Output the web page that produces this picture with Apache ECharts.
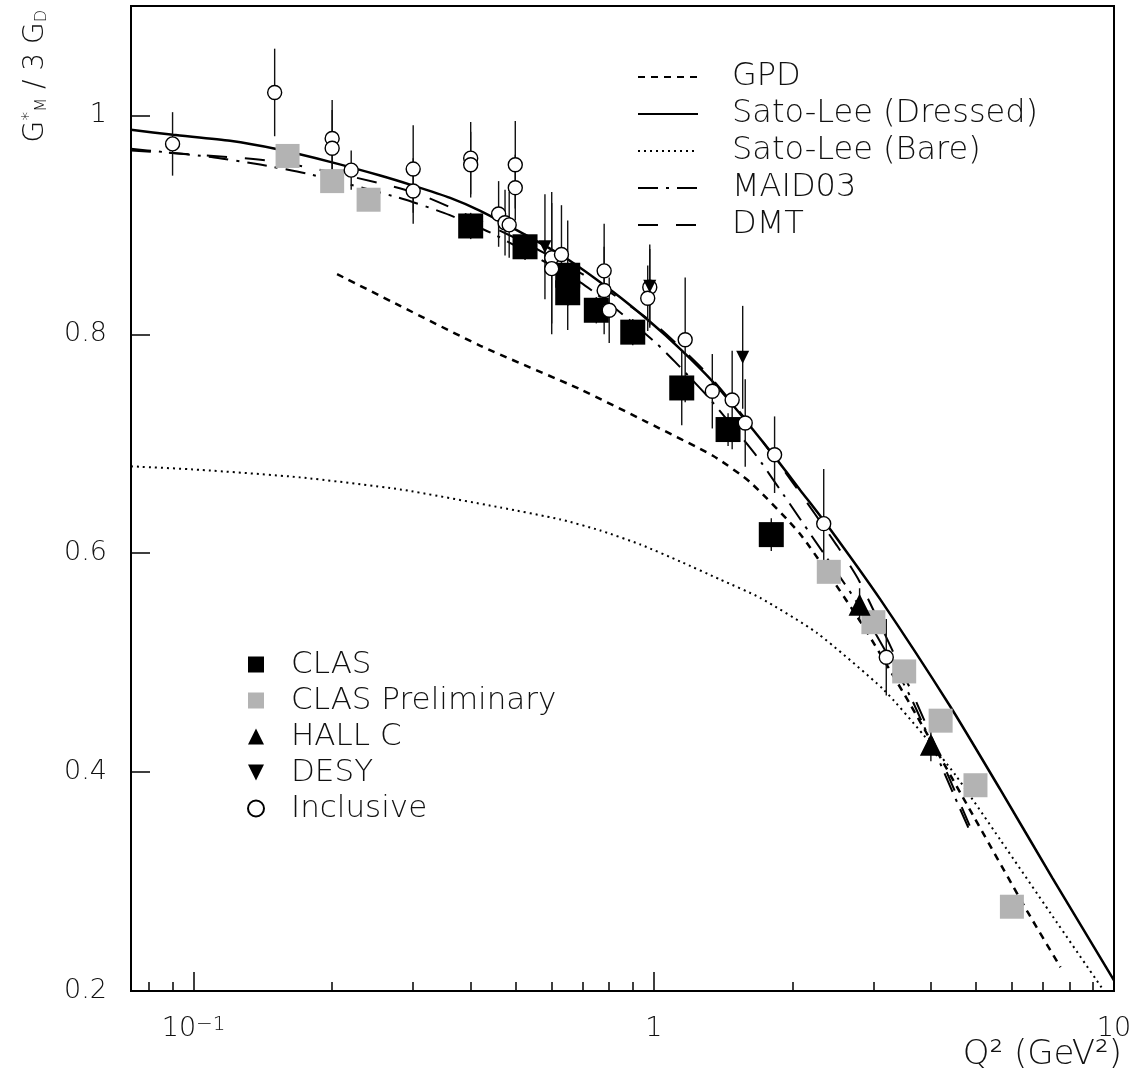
<!DOCTYPE html>
<html>
<head>
<meta charset="utf-8">
<script src="https://cdn.jsdelivr.net/npm/echarts@6/dist/echarts.min.js"></script>
<style>
html, body { margin: 0; padding: 0; background: #fff; }
#chart { width: 1145px; height: 1073px; }
</style>
</head>
<body>
<div id="chart"></div>
<script>
// theory curves (Q^2 in GeV^2, value of G*_M / 3 G_D)
const gpdQ2 = [0.205, 0.281, 0.42, 0.692, 0.968, 1.347, 1.621, 2.083, 2.811, 3.611, 4.797, 6.476, 7.65];
const gpdVal = [0.855, 0.826, 0.7895, 0.7498, 0.7196, 0.6888, 0.6647, 0.6171, 0.5375, 0.4615, 0.370, 0.273, 0.2217];

const dressedQ2 = [0.0731, 0.0902, 0.12, 0.1504, 0.198, 0.2543, 0.30, 0.361, 0.4196, 0.5309, 0.6486, 0.8166, 0.9826, 1.142, 1.347, 1.581, 1.828, 2.083, 2.384, 3.108, 4.412, 5.667, 7.35, 10];
const dressedVal = [0.9869, 0.9823, 0.9768, 0.9695, 0.9576, 0.9451, 0.9359, 0.9247, 0.9128, 0.8899, 0.8688, 0.8386, 0.8112, 0.7865, 0.7562, 0.7215, 0.6885, 0.6574, 0.6254, 0.5576, 0.4597, 0.3837, 0.3032, 0.2098];

const bareQ2 = [0.0731, 0.1033, 0.1704, 0.2812, 0.4638, 0.6261, 0.7648, 0.9347, 1.142, 1.395, 1.704, 2.263, 3.16, 3.854, 4.523, 5.667, 7.278, 9.489];
const bareVal = [0.6794, 0.6762, 0.6693, 0.6583, 0.6418, 0.6309, 0.6208, 0.608, 0.5924, 0.5759, 0.5592, 0.5271, 0.4752, 0.434, 0.3974, 0.3379, 0.2711, 0.2006];

const maidQ2 = [0.0731, 0.0854, 0.1092, 0.1395, 0.1774, 0.2853, 0.3593, 0.4521, 0.6922, 0.8455, 1.0177, 1.1135, 1.3137, 1.662, 1.912, 2.2, 2.811, 3.611, 4.479, 4.828];
const maidVal = [0.9695, 0.9667, 0.962, 0.9551, 0.9466, 0.9237, 0.9091, 0.8908, 0.8475, 0.82, 0.791, 0.7746, 0.7425, 0.6903, 0.6537, 0.6162, 0.5503, 0.4688, 0.380, 0.3489];

const dmtQ2 = [0.0731, 0.15, 0.3, 0.5, 0.7, 1.0, 1.3, 1.6, 2.0, 2.5, 2.8, 3.7, 4.88];
const dmtVal = [0.968, 0.958, 0.930, 0.888, 0.855, 0.810, 0.765, 0.720, 0.665, 0.607, 0.574, 0.466, 0.349];

// measurements
const clasQ2 = [0.40, 0.525, 0.65, 0.65, 0.75, 0.90, 1.15, 1.45, 1.80];
const clasVal = [0.899, 0.880, 0.854, 0.838, 0.822, 0.802, 0.751, 0.713, 0.617];
const clasErr = [0.012, 0.012, 0.05, 0.012, 0.012, 0.012, 0.034, 0.015, 0.015];

const prelimQ2 = [0.16, 0.20, 0.24, 2.4, 3.0, 3.5, 4.2, 5.0, 6.0];
const prelimVal = [0.963, 0.940, 0.923, 0.583, 0.537, 0.492, 0.447, 0.388, 0.277];

const hallcQ2 = [2.8, 4.0];
const hallcVal = [0.553, 0.425];
const hallcErr = [0.015, 0.015];

const desyQ2 = [0.58, 0.98, 1.56];
const desyVal = [0.880, 0.844, 0.779];
const desyErr = [0.048, 0.038, 0.047];

const inclQ2 = [0.09, 0.15, 0.20, 0.20, 0.22, 0.30, 0.30, 0.40, 0.40, 0.50, 0.50, 0.46, 0.475, 0.485, 0.60, 0.60, 0.63, 0.78, 0.78, 0.80, 0.98, 0.97, 1.17, 1.34, 1.48, 1.58, 1.83, 2.34, 3.2];
const inclVal = [0.974, 1.021, 0.979, 0.970, 0.950, 0.951, 0.931, 0.961, 0.955, 0.955, 0.934, 0.910, 0.902, 0.900, 0.870, 0.860, 0.873, 0.858, 0.840, 0.822, 0.843, 0.833, 0.795, 0.748, 0.740, 0.719, 0.690, 0.627, 0.505];
const inclErr = [0.029, 0.04, 0.035, 0.035, 0.018, 0.04, 0.03, 0.033, 0.03, 0.04, 0.03, 0.03, 0.03, 0.03, 0.06, 0.06, 0.045, 0.043, 0.04, 0.03, 0.035, 0.03, 0.057, 0.034, 0.045, 0.04, 0.035, 0.05, 0.035];

// axes
const xRange = [0.0731, 10];
const yRange = [0.2, 1.1];
const xMajorTicks = [0.1, 1, 10];
const xTickBase = ['10', '1', '10'];
const xTickExp = ['−1', '', ''];
const xMinorTicks = [0.08, 0.09, 0.2, 0.3, 0.4, 0.5, 0.6, 0.7, 0.8, 0.9, 2, 3, 4, 5, 6, 7, 8, 9];
const yTicks = [0.2, 0.4, 0.6, 0.8, 1.0];
const yTickLabels = ['0.2', '0.4', '0.6', '0.8', '1'];

const FONT = 'DejaVu Sans';

let chartDom = document.getElementById('chart');
let myChart = echarts.init(chartDom);

function toPoints(xs, ys) {
    return xs.map((q, i) => [q, ys[i]]);
}

function toBars(xs, ys, es) {
    return xs.map((q, i) => [q, ys[i] - es[i], ys[i] + es[i]]);
}

function curve(name, xs, ys, dash, width) {
    return {
        name: name,
        type: 'line',
        data: toPoints(xs, ys),
        symbol: 'none',
        smooth: 0.2,
        silent: true,
        z: 2,
        itemStyle: {color: '#000'},
        lineStyle: {
            color: '#000',
            width: width,
            type: dash,
            cap: 'butt'
        }
    };
}

function marks(name, xs, ys, symbol, size, style, z) {
    return {
        name: name,
        type: 'scatter',
        data: toPoints(xs, ys),
        symbol: symbol,
        symbolSize: size,
        itemStyle: Object.assign({opacity: 1}, style),
        z: z
    };
}

function renderErrorBar(params, api) {
    let top = api.coord([api.value(0), api.value(2)]);
    let bottom = api.coord([api.value(0), api.value(1)]);
    return {
        type: 'line',
        shape: {x1: top[0], y1: top[1], x2: bottom[0], y2: bottom[1]},
        style: {stroke: '#111', lineWidth: 1.4}
    };
}

let errorBars = []
    .concat(toBars(clasQ2, clasVal, clasErr))
    .concat(toBars(hallcQ2, hallcVal, hallcErr))
    .concat(toBars(desyQ2, desyVal, desyErr))
    .concat(toBars(inclQ2, inclVal, inclErr));

function xLabel(v) {
    let i = xMajorTicks.findIndex(t => Math.abs(Math.log10(t) - Math.log10(v)) < 1e-6);
    if (i < 0) {
        return '';
    }
    let text = '{base|' + xTickBase[i] + '}';
    if (xTickExp[i]) {
        text += '{sup|' + xTickExp[i] + '}';
    }
    return text;
}

function yLabel(v) {
    let i = yTicks.findIndex(t => Math.abs(t - v) < 1e-6);
    return i >= 0 ? yTickLabels[i] : '';
}

const plotBox = {left: 131, right: 31, top: 6, bottom: 82, containLabel: false, outerBoundsMode: 'none'};
const labelFont = {fontSize: 27, color: '#111', fontFamily: FONT, fontWeight: 'lighter'};
const tickLine = {color: '#000', width: 1.5};

let option = {
    animation: false,
    backgroundColor: '#fff',
    textStyle: {
        fontFamily: FONT,
        fontWeight: 'lighter'
    },
    title: {
        text: 'Q² (GeV²)',
        right: 18,
        top: 1033,
        textStyle: {fontSize: 34, color: '#111', fontFamily: FONT, fontWeight: 'lighter'}
    },
    grid: [
        Object.assign({show: true, borderColor: '#000', borderWidth: 2, backgroundColor: 'transparent'}, plotBox),
        Object.assign({show: false}, plotBox)
    ],
    xAxis: [{
        type: 'log',
        logBase: 10,
        gridIndex: 0,
        min: xRange[0],
        max: xRange[1],
        splitLine: {show: false},
        minorTick: {show: false},
        axisLine: {show: true, onZero: false, lineStyle: {color: '#000', width: 2}},
        axisTick: {show: true, inside: true, length: 19, lineStyle: tickLine},
        axisLabel: {
            show: true,
            formatter: xLabel,
            showMinLabel: false,
            margin: 24,
            color: '#111',
            rich: {
                base: {fontSize: 27, fontFamily: FONT, fontWeight: 'lighter', color: '#111', lineHeight: 27, padding: [16, 0, 0, 0], verticalAlign: 'bottom'},
                sup: {fontSize: 20, fontFamily: FONT, fontWeight: 'lighter', color: '#111', lineHeight: 20, padding: [0, 0, 23, 0], verticalAlign: 'top'}
            }
        }
    }, {
        type: 'log',
        logBase: 10,
        gridIndex: 1,
        position: 'bottom',
        min: xRange[0],
        max: xRange[1],
        splitLine: {show: false},
        axisLine: {show: false, onZero: false},
        axisTick: {
            show: true,
            inside: true,
            length: 9,
            customValues: xMinorTicks,
            lineStyle: tickLine
        },
        axisLabel: {show: false}
    }],
    yAxis: [{
        type: 'value',
        gridIndex: 0,
        min: yRange[0],
        max: yRange[1],
        interval: 0.2,
        splitLine: {show: false},
        axisLine: {show: true, onZero: false, lineStyle: {color: '#000', width: 2}},
        axisTick: {show: true, inside: true, length: 19, lineStyle: tickLine},
        axisLabel: Object.assign({
            show: true,
            formatter: yLabel,
            showMaxLabel: false,
            margin: 24
        }, labelFont),
        name: '{m|G}{sup|*}{sub|M}{m| / 3 G}{sub|D}',
        nameLocation: 'end',
        nameRotate: 90,
        nameGap: -4,
        nameTextStyle: {
            align: 'right',
            verticalAlign: 'bottom',
            padding: [0, 0, 75, 0],
            color: '#111',
            rich: {
                m: {fontSize: 28, fontFamily: FONT, fontWeight: 'lighter', color: '#111', lineHeight: 40, verticalAlign: 'middle'},
                sup: {fontSize: 18, fontFamily: FONT, fontWeight: 'lighter', color: '#111', lineHeight: 40, verticalAlign: 'top', padding: [4, 0, 0, 0]},
                sub: {fontSize: 16, fontFamily: FONT, fontWeight: 'lighter', color: '#111', lineHeight: 40, verticalAlign: 'bottom', padding: [0, 0, 6, 0]}
            }
        }
    }, {
        type: 'value',
        gridIndex: 1,
        min: yRange[0],
        max: yRange[1],
        show: false
    }],
    legend: [{
        data: ['GPD', 'Sato-Lee (Dressed)', 'Sato-Lee (Bare)', 'MAID03', 'DMT'],
        orient: 'vertical',
        left: 632,
        top: 56,
        itemWidth: 60,
        itemHeight: 14,
        itemGap: 5,
        selectedMode: false,
        itemStyle: {opacity: 0},
        textStyle: {fontSize: 32, color: '#111', fontFamily: FONT, fontWeight: 'lighter', padding: [0, 0, 0, 29]}
    }, {
        data: ['CLAS', 'CLAS Preliminary', 'HALL C', 'DESY', 'Inclusive'],
        orient: 'vertical',
        left: 242,
        top: 644,
        itemWidth: 16,
        itemHeight: 16,
        itemGap: 5,
        selectedMode: false,
        textStyle: {fontSize: 31, color: '#111', fontFamily: FONT, fontWeight: 'lighter', padding: [0, 0, 0, 22]}
    }],
    series: [
        curve('GPD', gpdQ2, gpdVal, [7, 6], 2.5),
        curve('Sato-Lee (Dressed)', dressedQ2, dressedVal, 'solid', 2.5),
        curve('Sato-Lee (Bare)', bareQ2, bareVal, [2, 4], 2),
        curve('MAID03', maidQ2, maidVal, [20, 8, 3, 8], 2),
        curve('DMT', dmtQ2, dmtVal, [20, 18], 2),
        {
            name: 'errors',
            type: 'custom',
            renderItem: renderErrorBar,
            data: errorBars,
            encode: {x: 0, y: [1, 2]},
            silent: true,
            z: 3
        },
        marks('CLAS', clasQ2, clasVal, 'rect', 25, {color: '#000'}, 4),
        marks('CLAS Preliminary', prelimQ2, prelimVal, 'rect', 24, {color: '#b3b3b3'}, 4),
        marks('HALL C', hallcQ2, hallcVal, 'triangle', 22, {color: '#000'}, 4),
        marks('Inclusive', inclQ2, inclVal, 'circle', 14, {color: '#fff', borderColor: '#000', borderWidth: 1.4}, 5),
        marks('DESY', desyQ2, desyVal, 'path://M0,0L10,0L5,10Z', 13, {color: '#000'}, 6)
    ]
};

option && myChart.setOption(option);
</script>
</body>
</html>
